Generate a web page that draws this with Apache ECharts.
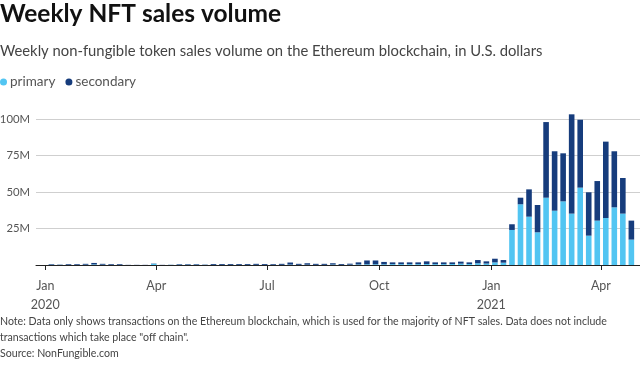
<!DOCTYPE html>
<html>
<head>
<meta charset="utf-8">
<script src="https://cdn.jsdelivr.net/npm/echarts@6/dist/echarts.min.js"></script>
<style>
html,body{margin:0;padding:0;background:#fff;}
#c{width:640px;height:380px;}
</style>
</head>
<body>
<div id="c"></div>
<script>
// Weekly data (week starting Monday), values in millions of U.S. dollars
const firstWeek = [2020, 0, 6];
const weekCount = 69;
const primary = [
  0.2,0.1,0.1,0.1,0.2,0.4,0.2,0.1,0.1,0,
  0,0,0.8,0,0.1,0.2,0.2,0.2,0.1,0.1,
  0.1,0.1,0.1,0.1,0.1,0.1,0.1,0.1,0.3,0.1,
  0.2,0.1,0.1,0.3,0.1,0.2,0.4,0.5,0.5,0.5,
  0.6,0.6,0.6,0.6,0.7,0.6,0.6,0.7,0.9,0.7,
  1.2,1.0,1.8,1.6,
  24.0,41.6,33.1,22.4,46.1,37.2,43.6,35.2,53.0,20.1,30.4,32.2,39.5,35.2,17.4
];
const secondary = [
  0.4,0.2,0.5,0.5,0.6,1.0,0.6,0.5,0.5,0.1,
  0.1,0.1,0.2,0.1,0.1,0.4,0.4,0.4,0.2,0.6,
  0.6,0.6,0.6,0.6,0.7,0.6,0.5,0.7,1.4,0.7,
  1.0,0.7,0.7,0.9,0.6,0.7,1.4,2.6,2.6,1.6,
  1.2,1.2,1.2,1.2,1.8,1.2,1.2,1.1,1.4,1.1,
  2.2,1.5,2.5,1.8,
  3.9,4.5,18.7,18.7,51.8,40.7,32.9,68.0,46.5,29.7,27.1,52.3,38.4,24.4,13.0
];
const yTicks = [0, 25, 50, 75, 100];
const monthNames = ['Jan','Feb','Mar','Apr','May','Jun','Jul','Aug','Sep','Oct','Nov','Dec'];
const titleText = 'Weekly NFT sales volume';
const subtitleText = 'Weekly non-fungible token sales volume on the Ethereum blockchain, in U.S. dollars';
const noteText = 'Note: Data only shows transactions on the Ethereum blockchain, which is used for the majority of NFT sales. Data does not include\ntransactions which take place "off chain".';
const sourceText = 'Source: NonFungible.com';

const weeks = [];
for (let i = 0; i < weekCount; i++) {
  weeks.push(new Date(firstWeek[0], firstWeek[1], firstWeek[2] + 7 * i).getTime());
}
const primaryData = weeks.map((d, i) => [d, primary[i]]);
const secondaryData = weeks.map((d, i) => [d, secondary[i]]);

const FONT = 'Lato';
const chart = echarts.init(document.getElementById('c'), null, {renderer: 'canvas'});
chart.setOption({
  animation: false,
  textStyle: {fontFamily: FONT},
  title: [
    {text: titleText, left: 0, top: 2, padding: 0,
     textStyle: {fontFamily: FONT, fontSize: 24.5, fontWeight: 'bold', color: '#111'}},
    {text: subtitleText, left: 0, top: 44, padding: 0,
     textStyle: {fontFamily: FONT, fontSize: 14.8, fontWeight: 'normal', color: '#444'}},
    {text: noteText, left: 0, top: 314, padding: 0,
     textStyle: {fontFamily: FONT, fontSize: 10.6, fontWeight: 'normal', color: '#444', lineHeight: 16}},
    {text: sourceText, left: 0, top: 348, padding: 0,
     textStyle: {fontFamily: FONT, fontSize: 10.6, fontWeight: 'normal', color: '#444'}}
  ],
  legend: {
    left: 0, top: 75, padding: 0, itemGap: 10,
    icon: 'circle', itemWidth: 7, itemHeight: 7,
    textStyle: {fontFamily: FONT, fontSize: 13.5, color: '#555', padding: [0,0,0,-2]},
    data: ['primary', 'secondary']
  },
  grid: {left: 36, right: 0, top: 119, bottom: 115, containLabel: false, outerBoundsMode: 'none'},
  xAxis: {
    type: 'time',
    min: new Date(2019, 11, 26, 15).getTime(),
    max: new Date(2021, 3, 30, 19).getTime(),
    splitNumber: 5,
    axisLine: {lineStyle: {color: '#222', width: 1}},
    axisTick: {show: true, length: 5, lineStyle: {color: '#222'}},
    splitLine: {show: false},
    axisLabel: {
      fontFamily: FONT, fontSize: 12.5, color: '#555', margin: 11, lineHeight: 19,
      hideOverlap: false,
      formatter: function (v) {
        const d = new Date(v);
        const m = d.getMonth();
        return m === 0 ? monthNames[m] + '\n' + d.getFullYear() : monthNames[m];
      }
    }
  },
  yAxis: {
    type: 'value', min: yTicks[0], max: yTicks[yTicks.length - 1], interval: 25,
    axisLine: {show: false}, axisTick: {show: false},
    splitLine: {lineStyle: {color: '#cfcfcf', width: 1}},
    axisLabel: {
      fontFamily: FONT, fontSize: 11.3, color: '#555', margin: 6,
      formatter: v => v === 0 ? '' : v + 'M'
    }
  },
  series: [
    {name: 'primary', type: 'bar', stack: 'v', data: primaryData, barWidth: 5.6, clip: false,
     itemStyle: {color: '#52c5f2'}},
    {name: 'secondary', type: 'bar', stack: 'v', data: secondaryData, barWidth: 5.6, clip: false,
     itemStyle: {color: '#163c7c'}}
  ]
});
</script>
</body>
</html>
